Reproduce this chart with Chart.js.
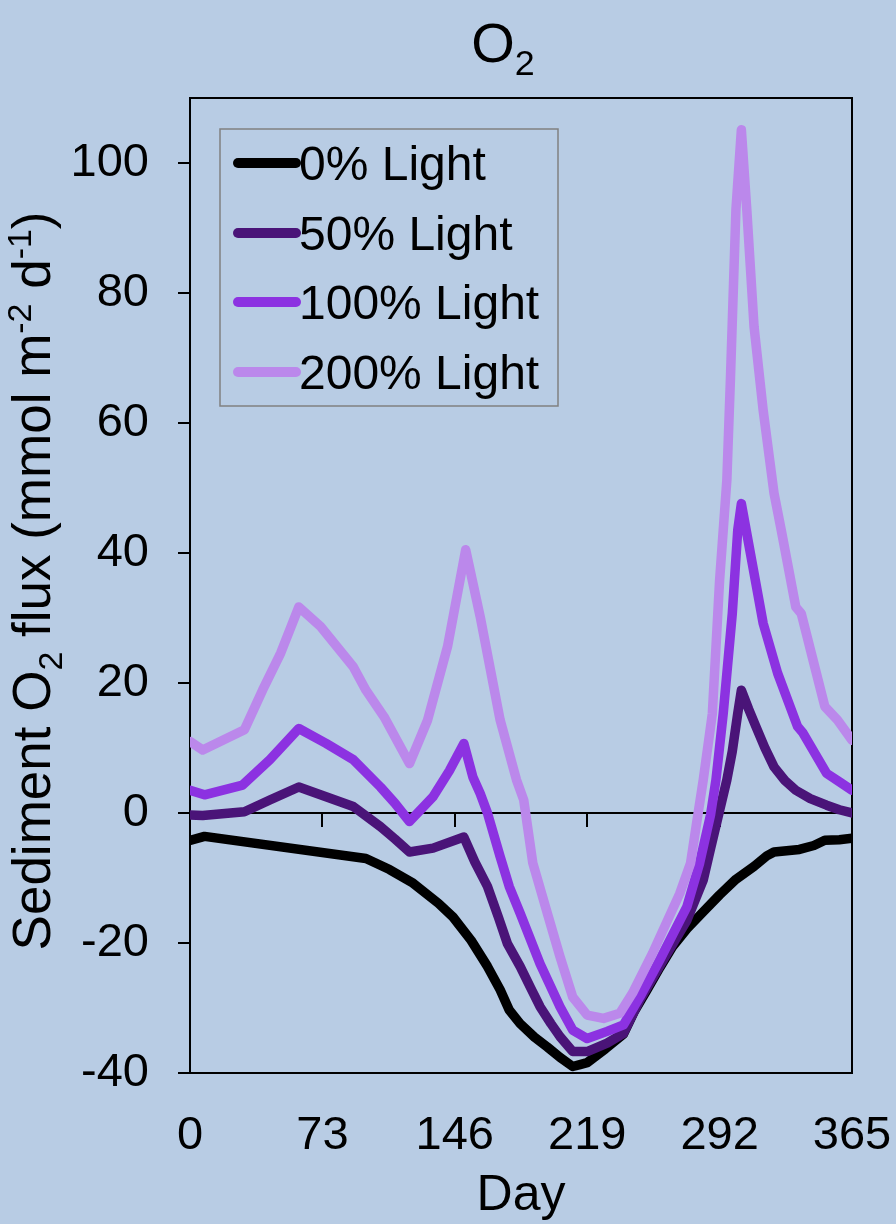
<!DOCTYPE html>
<html>
<head>
<meta charset="utf-8">
<script src="https://cdn.jsdelivr.net/npm/chart.js@4/dist/chart.umd.min.js"></script>
<style>
  html, body { margin: 0; padding: 0; background: #b8cce4; }
  canvas { display: block; }
</style>
</head>
<body>
<canvas id="c" width="896" height="1224"></canvas>
<script>
const FONT = "'Liberation Sans', Arial, Helvetica, sans-serif";

const seriesLabels = ['0% Light', '50% Light', '100% Light', '200% Light'];
const seriesColors = ['#000000', '#4a1478', '#8c32e1', '#bb88eb'];

const xTickValues = [0, 73, 146, 219, 292, 365];
const yTickValues = [-40, -20, 0, 20, 40, 60, 80, 100];

// 0% light
const days0 = [0, 8, 97, 110, 123, 137, 145, 155, 164, 171, 176, 182, 190, 197, 204, 211, 215, 219, 229, 239, 245, 252, 259, 266, 274, 283, 292, 301, 311, 318, 322, 336, 344, 350, 358, 365];
const flux0 = [-4.2, -3.6, -7.0, -8.7, -10.8, -13.9, -16.0, -19.6, -23.6, -27.2, -30.3, -32.4, -34.5, -36.0, -37.6, -39.0, -38.7, -38.4, -36.3, -34.0, -30.5, -27.2, -23.8, -20.6, -17.8, -15.2, -12.6, -10.2, -8.2, -6.6, -6.0, -5.6, -5.0, -4.2, -4.1, -3.9];

// 50% light
const days50 = [0, 7, 30, 44, 60, 75, 90, 105, 113, 121, 134, 151, 157, 164, 170, 175, 182, 188, 193, 199, 204, 211, 219, 230, 239, 248, 261, 274, 283, 287, 291, 296, 299, 302, 304, 308, 312, 317, 322, 328, 334, 342, 351, 358, 365];
const flux50 = [-0.3, -0.4, 0.2, 2.0, 4.0, 2.5, 1.0, -2.1, -4.0, -6.0, -5.4, -3.7, -7.5, -11.3, -16.0, -20.1, -23.6, -27.0, -29.8, -32.4, -34.4, -36.7, -36.7, -35.4, -33.9, -28.8, -22.6, -16.5, -10.3, -5.5, -0.8, 5.1, 9.5, 15.3, 18.9, 16.0, 13.3, 10.0, 7.1, 5.0, 3.5, 2.2, 1.2, 0.5, 0.0];

// 100% light
const days100 = [0, 8, 29, 44, 60, 75, 90, 105, 113, 121, 134, 143, 151, 156, 160, 164, 171, 176, 182, 193, 204, 211, 219, 230, 239, 248, 259, 274, 281, 287, 290, 294, 299, 302, 304, 310, 316, 324, 335, 338, 351, 358, 365];
const flux100 = [3.5, 2.8, 4.3, 8.2, 13.0, 10.7, 8.2, 4.0, 1.5, -1.3, 2.5, 6.5, 10.7, 5.5, 3.0, 0.0, -6.7, -11.3, -15.4, -23.2, -29.8, -33.4, -34.7, -33.6, -32.6, -28.3, -22.6, -14.4, -7.7, -0.3, 5.1, 15.3, 30.7, 43.5, 47.6, 38.4, 29.2, 21.5, 13.3, 12.3, 6.1, 4.8, 3.5];

// 200% light
const days200 = [0, 7, 30, 40, 50, 60, 72, 90, 97, 107, 121, 131, 142, 152, 160, 171, 180, 184, 189, 197, 204, 211, 219, 228, 237, 244, 255, 270, 276, 280, 283, 288, 292, 296, 298, 301, 304, 307, 311, 316, 322, 326, 334, 337, 344, 350, 357, 365];
const flux200 = [11.0, 9.7, 12.8, 18.9, 24.6, 31.7, 28.7, 22.5, 18.9, 14.8, 7.6, 14.3, 25.6, 40.5, 30.2, 14.3, 5.1, 2.0, -7.7, -15.4, -22.1, -28.3, -31.1, -31.6, -30.8, -27.7, -21.6, -12.4, -7.7, -0.3, 5.1, 15.3, 35.8, 51.2, 67.0, 92.8, 105.1, 92.8, 74.8, 62.0, 49.2, 43.5, 31.7, 30.7, 23.0, 16.4, 14.3, 11.2];

const seriesDays = [days0, days50, days100, days200];
const seriesFlux = [flux0, flux50, flux100, flux200];

function toPoints(xs, ys) {
  return xs.map((x, i) => ({ x: x, y: ys[i] }));
}

// Text with sub/superscript runs, centred on (x, y) along the baseline
function drawRich(ctx, parts, size, x, y, rotate) {
  ctx.save();
  ctx.translate(x, y);
  if (rotate) ctx.rotate(-Math.PI / 2);
  ctx.textAlign = 'left';
  ctx.textBaseline = 'alphabetic';
  ctx.fillStyle = '#000';
  let total = 0;
  const runs = parts.map(([t, k]) => {
    const s = k ? size * 0.64 : size;
    ctx.font = s + 'px ' + FONT;
    const w = ctx.measureText(t).width;
    total += w;
    return [t, k, s, w];
  });
  let cx = -total / 2;
  for (const [t, k, s, w] of runs) {
    ctx.font = s + 'px ' + FONT;
    const dy = k === 1 ? size * 0.23 : (k === 2 ? -size * 0.36 : 0);
    ctx.fillText(t, cx, dy);
    cx += w;
  }
  ctx.restore();
}

const backgroundPlugin = {
  id: 'bg',
  beforeDraw(chart) {
    const ctx = chart.ctx;
    ctx.save();
    ctx.fillStyle = '#b8cce4';
    ctx.fillRect(0, 0, chart.width, chart.height);
    ctx.restore();
  }
};

const framePlugin = {
  id: 'frame',
  beforeDatasetsDraw(chart) {
    const { ctx, chartArea: a, scales } = chart;
    const xs = scales.x, ys = scales.y;
    ctx.save();
    ctx.strokeStyle = '#000';
    ctx.lineWidth = 2;
    ctx.strokeRect(a.left, a.top, a.right - a.left, a.bottom - a.top);
    // horizontal axis line through zero with downward tick marks
    const y0 = Math.round(ys.getPixelForValue(0));
    ctx.beginPath();
    ctx.moveTo(a.left, y0);
    ctx.lineTo(a.right, y0);
    xTickValues.forEach(v => {
      const px = Math.round(xs.getPixelForValue(v));
      ctx.moveTo(px, y0);
      ctx.lineTo(px, y0 + 14);
    });
    ctx.stroke();
    ctx.restore();
  },
  afterDraw(chart) {
    const { ctx, chartArea: a } = chart;
    // chart title
    drawRich(ctx, [['O', 0], ['2', 1]], 56, 503, 62, false);
    // axis titles
    drawRich(ctx, [['Day', 0]], 50, (a.left + a.right) / 2, 1210, false);
    drawRich(ctx, [
      ['Sediment O', 0], ['2', 1], [' flux (mmol m', 0], ['-2', 2], [' d', 0], ['-1', 2], [')', 0]
    ], 53, 50, 581, true);
  }
};

const legendPlugin = {
  id: 'boxLegend',
  afterDatasetsDraw(chart) {
    const ctx = chart.ctx;
    const bx = 220, by = 129, bw = 338, bh = 277;
    ctx.save();
    ctx.fillStyle = '#b8cce4';
    ctx.fillRect(bx, by, bw, bh);
    ctx.strokeStyle = '#808080';
    ctx.lineWidth = 1.5;
    ctx.strokeRect(bx, by, bw, bh);
    const rows = [163, 233, 302, 372];
    ctx.font = '48px ' + FONT;
    ctx.textBaseline = 'alphabetic';
    ctx.textAlign = 'left';
    seriesLabels.forEach((lab, i) => {
      const ry = rows[i];
      ctx.strokeStyle = seriesColors[i];
      ctx.lineWidth = 10;
      ctx.lineCap = 'round';
      ctx.beginPath();
      ctx.moveTo(238, ry);
      ctx.lineTo(296, ry);
      ctx.stroke();
      ctx.fillStyle = '#000';
      ctx.fillText(lab, 299, ry + 17);
    });
    ctx.restore();
  }
};

const datasets = seriesLabels.map((lab, i) => ({
  label: lab,
  data: toPoints(seriesDays[i], seriesFlux[i]),
  borderColor: seriesColors[i],
  backgroundColor: seriesColors[i],
  borderWidth: 9.5,
  borderJoinStyle: 'round',
  borderCapStyle: 'round',
  pointRadius: 0,
  pointHoverRadius: 0,
  tension: 0,
  fill: false,
  order: seriesLabels.length - i
}));

new Chart(document.getElementById('c'), {
  type: 'line',
  data: { datasets: datasets },
  options: {
    responsive: false,
    animation: false,
    devicePixelRatio: 1,
    layout: { padding: { top: 98, right: 44, left: 0, bottom: 0 } },
    plugins: {
      legend: { display: false },
      title: { display: false },
      tooltip: { enabled: false }
    },
    scales: {
      x: {
        type: 'linear',
        min: 0,
        max: 365,
        afterBuildTicks: s => { s.ticks = xTickValues.map(v => ({ value: v })); },
        afterFit: s => { s.height = 151; s.paddingLeft = 0; s.paddingRight = 0; },
        grid: { display: false, drawTicks: false },
        border: { display: false },
        ticks: {
          color: '#000',
          font: { family: FONT, size: 47 },
          padding: 35,
          maxRotation: 0,
          autoSkip: false
        }
      },
      y: {
        type: 'linear',
        min: -40,
        max: 110,
        afterBuildTicks: s => { s.ticks = yTickValues.map(v => ({ value: v })); },
        afterFit: s => { s.width = 190; s.paddingTop = 0; s.paddingBottom = 0; },
        grid: {
          drawOnChartArea: false,
          drawTicks: true,
          tickLength: 12,
          color: '#000',
          lineWidth: 2
        },
        border: { display: false },
        ticks: {
          color: '#000',
          font: { family: FONT, size: 47 },
          padding: 29,
          autoSkip: false
        }
      }
    }
  },
  plugins: [backgroundPlugin, framePlugin, legendPlugin]
});
</script>
</body>
</html>
